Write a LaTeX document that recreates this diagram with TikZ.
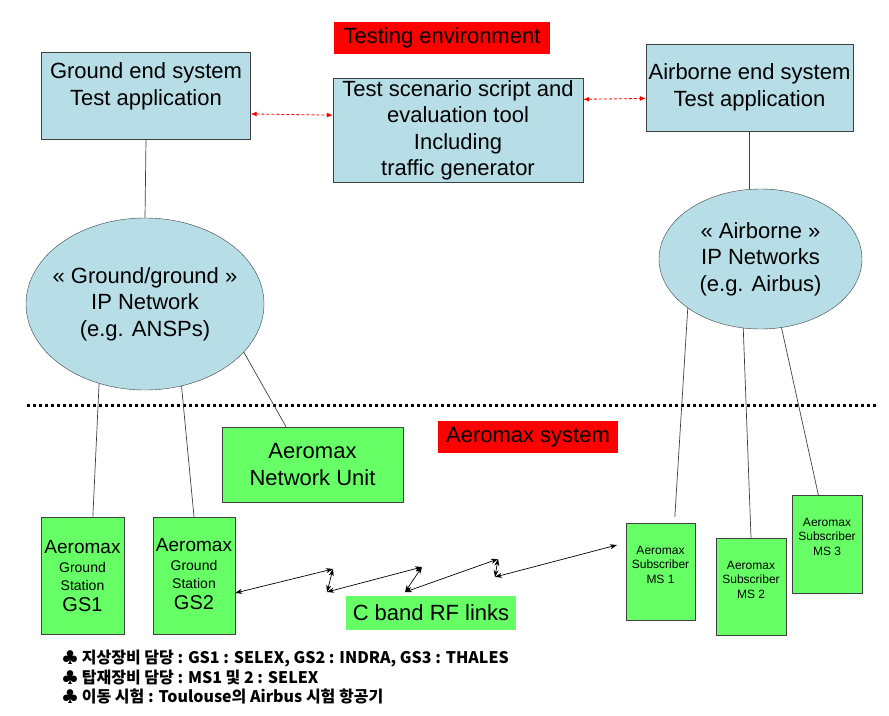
\documentclass[tikz,border=0pt]{standalone}
\usepackage{fontspec}
\setmainfont{Liberation Sans}
\newfontfamily\krfont{Noto Sans CJK KR}
\usepackage{tikz}
\usetikzlibrary{arrows.meta,shapes.geometric,positioning}
\definecolor{paleblue}{RGB}{183,222,230}
\definecolor{litegreen}{RGB}{102,255,102}

\begin{document}
\begin{tikzpicture}[x=1pt, y=-1pt, font=\fontsize{22}{26.5}\selectfont,
	bluebox/.style={draw=black!75, fill=paleblue, align=center, inner sep=2pt},
	greenbox/.style={draw=black!75, fill=litegreen, align=center, inner sep=2pt},
	redtag/.style={fill=red, minimum height=32pt, inner sep=2pt},
	net/.style={ellipse, draw=black!75, fill=paleblue, inner sep=0pt},
	wire/.style={draw=black!75, line width=0.7pt},
	testlink/.style={red, line width=0.8pt, dash pattern=on 3pt off 2pt, {Latex[length=6pt,width=5pt]}-{Latex[length=6pt,width=5pt]}},
	rflink/.style={line width=0.7pt, {Stealth[length=7pt,width=5pt]}-{Stealth[length=7pt,width=5pt]}},
	gstext/.style={align=center, inner sep=0pt, font=\fontsize{14}{18}\selectfont},
	mstext/.style={align=center, inner sep=0pt, font=\fontsize{12}{14.5}\selectfont}]
	\useasboundingbox (0,0) rectangle (889,715);

	\node[redtag, minimum width=216pt] (testenv) at (442,38) {Testing environment};
	\node[bluebox, minimum width=209pt, minimum height=87pt] (gndsys) at (146,95.5) {};
	\node[below=11pt of gndsys.north, align=center, inner sep=0pt] (gndsystxt) {Ground end system\\Test application};
	\node[bluebox, minimum width=250pt, minimum height=103pt] (scen) at (458,130.5) {Test scenario script and\\evaluation tool\\Including\\traffic generator};
	\node[bluebox, minimum width=207pt, minimum height=87pt] (airsys) at (749.5,87.5) {Airborne end system\\Test application};
	\draw[testlink] (gndsys.-10.6) -- (scen.173);
	\draw[testlink] (scen.14.1) -- (airsys.186.3);

	\node[net, minimum width=238pt, minimum height=172pt] (gndnet) at (145,304) {};
	\node[align=center] (gndnettxt) at (gndnet) {« Ground/ground »\\IP Network\\(e.g. ANSPs)};
	\node[net, minimum width=203pt, minimum height=140pt] (airnet) at (760.5,259) {};
	\node[align=center] (airnettxt) at (airnet) {« Airborne »\\IP Networks\\(e.g. Airbus)};
	\draw[wire] (gndsys.south) -- (gndnet.north);
	\draw[wire] (airsys.south) -- (airsys.south |- airnet.north);

	\draw[line width=3pt, dash pattern=on 3pt off 3pt] (27,405) -- (878,405);

	\node[redtag, minimum width=180pt] (aerosys) at (528,437) {Aeromax system};
	\node[greenbox, minimum width=181pt, minimum height=75pt] (nu) at (312.5,464.5) {Aeromax\\Network Unit};

	\node[greenbox, minimum width=83pt, minimum height=117pt] (gs1) at (82.5,575.5) {};
	\node[gstext, below=23pt of gs1.north] (gs1txt) {{\fontsize{19}{21}\selectfont Aeromax}\\[1pt]Ground\\Station\\[3pt]{\fontsize{20}{22}\selectfont GS1}};
	\node[greenbox, minimum width=82pt, minimum height=117pt] (gs2) at (194,575.5) {};
	\node[gstext, below=21pt of gs2.north] (gs2txt) {{\fontsize{19}{21}\selectfont Aeromax}\\[1pt]Ground\\Station\\[3pt]{\fontsize{20}{22}\selectfont GS2}};

	\node[greenbox, minimum width=69pt, minimum height=97pt] (ms1) at (660.5,571.5) {};
	\node[mstext, below=23pt of ms1.north] (ms1txt) {Aeromax\\Subscriber\\MS 1};
	\node[greenbox, minimum width=70pt, minimum height=97pt] (ms2) at (751,586.5) {};
	\node[mstext, below=23pt of ms2.north] (ms2txt) {Aeromax\\Subscriber\\MS 2};
	\node[greenbox, minimum width=70pt, minimum height=98pt] (ms3) at (827,544) {};
	\node[mstext, below=23pt of ms3.north] (ms3txt) {Aeromax\\Subscriber\\MS 3};

	\draw[wire] (gndnet.240) -- (gs1.80);
	\draw[wire] (gndnet.294) -- (gs2.north);
	\draw[wire] (gndnet.334) -- (nu.125);
	\draw[wire, shorten >=6pt] (airnet.214) -- (ms1.74);
	\draw[wire] (airnet.256) -- (ms2.north);
	\draw[wire] (airnet.287) -- (ms3.100);

	\coordinate (rfa) at (333,569);
	\coordinate (rfb) at (327,592);
	\coordinate (rfc) at (422,567);
	\coordinate (rfd) at (405,592);
	\coordinate (rfe) at (498,559);
	\coordinate (rff) at (495,577);
	\coordinate (rfg) at (617,545);
	\draw[rflink] (gs2.-23) -- (rfa);
	\foreach \p/\q in {rfa/rfb, rfb/rfc, rfc/rfd, rfd/rfe, rfe/rff, rff/rfg}
		\draw[rflink] (\p) -- (\q);
	\node[fill=litegreen, minimum width=170pt, minimum height=34pt, inner sep=2pt] (cband) at (431,613) {C band RF links};

	\node[anchor=north west, align=left, inner sep=0pt, font=\krfont\bfseries\fontsize{16}{19.5}\selectfont] (notes) at (62,650) {♣ 지상장비 담당 : GS1 : SELEX, GS2 : INDRA, GS3 : THALES\\♣ 탑재장비 담당 : MS1 및 2 : SELEX\\♣ 이동 시험 : Toulouse의 Airbus 시험 항공기};
\end{tikzpicture}
\end{document}
